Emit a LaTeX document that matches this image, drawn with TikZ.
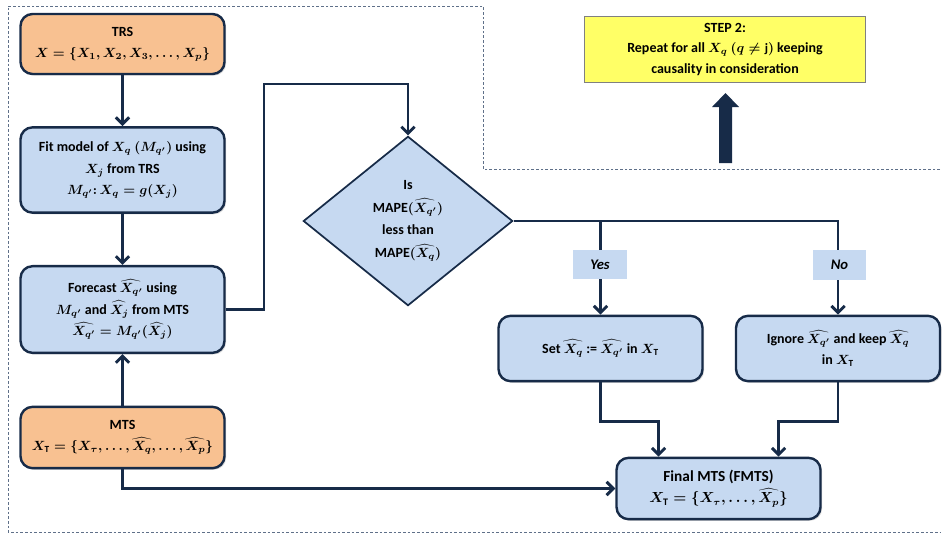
\documentclass[tikz,border=0pt]{standalone}
\usepackage{fontspec}
\setmainfont{Carlito}
\DeclareMathSizes{10.5}{9.6}{7}{5}
\DeclareMathSizes{11.5}{10.5}{7.5}{5.5}
\usetikzlibrary{shapes.geometric,arrows.meta,calc,shadows}
\definecolor{navy}{HTML}{172B48}
\definecolor{peach}{HTML}{F8C191}
\definecolor{paleblue}{HTML}{C6D9F1}
\definecolor{lemon}{HTML}{FFFF66}
\definecolor{frame}{HTML}{5F7089}
\tikzset{
  box/.style={draw=navy,line width=1.8pt,rounded corners=9pt,align=flush center,
    minimum width=153pt,text width=148pt,inner sep=2pt,
    font=\fontsize{10.5}{16}\selectfont\bfseries\boldmath,
    drop shadow={shadow xshift=1.2pt,shadow yshift=-1.2pt,opacity=.3}},
  orangebox/.style={box,fill=peach},
  bluebox/.style={box,fill=paleblue},
  decision/.style={diamond,draw=navy,line width=1.3pt,fill=paleblue,align=flush center,
    minimum width=157pt,minimum height=127pt,inner sep=0pt,
    font=\fontsize{10.5}{17}\selectfont\bfseries\boldmath},
  tag/.style={fill=paleblue,minimum width=40pt,minimum height=22pt,inner sep=0pt,
    font=\fontsize{11}{13}\selectfont\bfseries\itshape},
  flowline/.style={draw=navy,line width=2.2pt},
  conn/.style={flowline,-{Straight Barb[length=5pt,width=10pt,line width=2.2pt]}}
}
\begin{document}
\begin{tikzpicture}[x=0.75pt,y=-0.75pt]
  \useasboundingbox (0,0) rectangle (944,533);
  % dashed frame of step 1
  \draw[frame,line width=0.6pt,dash pattern=on 2pt off 1.5pt]
    (940,169) -- (483,169) -- (483,6) -- (8,6) -- (8,532) -- (940,532);

  % left column
  \node[orangebox,minimum height=45pt] (trs) at (122.5,44)
    {TRS\\ $X=\{X_1,X_2,X_3,\ldots,X_p\}$};
  \node[bluebox,minimum height=64pt] (fit) at (122.5,170)
    {Fit model of $X_q$ $(M_{q'})$ using\\ $X_j$ from TRS\\ $M_{q'}\colon X_q=g(X_j)$};
  \node[bluebox,minimum height=65pt] (fore) at (122.5,309.5)
    {Forecast $\widehat{X_{q'}}$ using\\ $M_{q'}$ and $\widehat{X_j}$ from MTS\\
     $\widehat{X_{q'}}=M_{q'}(\widehat{X_j})$};
  \node[orangebox,minimum height=46pt] (mts) at (122.5,437.5)
    {MTS\\ $X_{\mathrm{T}}=\{X_\tau,\ldots,\widehat{X_q},\ldots,\widehat{X_p}\}$};

  % decision
  \node[decision] (dec) at (408,221)
    {Is\\ MAPE$(\widehat{X_{q'}})$\\ less than\\ MAPE$(\widehat{X_q})$};

  % right part
  \node[bluebox,minimum height=49pt] (set) at (600.5,348.5)
    {Set $\widehat{X_q}$ := $\widehat{X_{q'}}$ in $X_{\mathrm{T}}$};
  \node[bluebox,minimum height=49pt] (ign) at (838,348.5)
    {Ignore $\widehat{X_{q'}}$ and keep $\widehat{X_q}$\\ in $X_{\mathrm{T}}$};
  \node[bluebox,minimum height=46pt,font=\fontsize{11.5}{16}\selectfont\bfseries\boldmath]
    (final) at (718.5,488.5)
    {Final MTS (FMTS)\\ $X_{\mathrm{T}}=\{X_\tau,\ldots,\widehat{X_p}\}$};

  \node[draw=gray,line width=0.8pt,fill=lemon,minimum width=211pt,minimum height=50pt,
    text width=205pt,align=flush center,inner sep=1pt,
    font=\fontsize{10.5}{15.5}\selectfont\bfseries\boldmath] (step) at (725,49.5)
    {STEP 2:\\ Repeat for all $X_q$ $(q\neq\mathrm{j})$ keeping\\ causality in consideration};
  \fill[navy] (719,163) -- (719,107) -- (712,107) -- (725.5,93) -- (739,107)
    -- (732,107) -- (732,163) -- cycle;

  % connectors
  \draw[conn] (trs) -- (fit);
  \draw[conn] (fit) -- (fore);
  \draw[conn] (mts) -- (fore);
  \draw[conn] (fore.east) -| (264,84) -| (dec.north);
  \draw[conn] (dec.east) -| (ign.north);
  \draw[conn] (set.north |- dec.east) -- (set.north);
  \draw[conn] (set.south) -- ++(0,39) -| ($(final.north)+(-60,0)$);
  \draw[conn] (ign.south) -- ++(0,39) -| ($(final.north)+(60,0)$);
  \draw[conn] (mts.south) |- (final.west);

  \node[tag] (yes) at (600,264.5) {Yes};
  \node[tag] (no) at (839.5,265) {No};
\end{tikzpicture}
\end{document}
